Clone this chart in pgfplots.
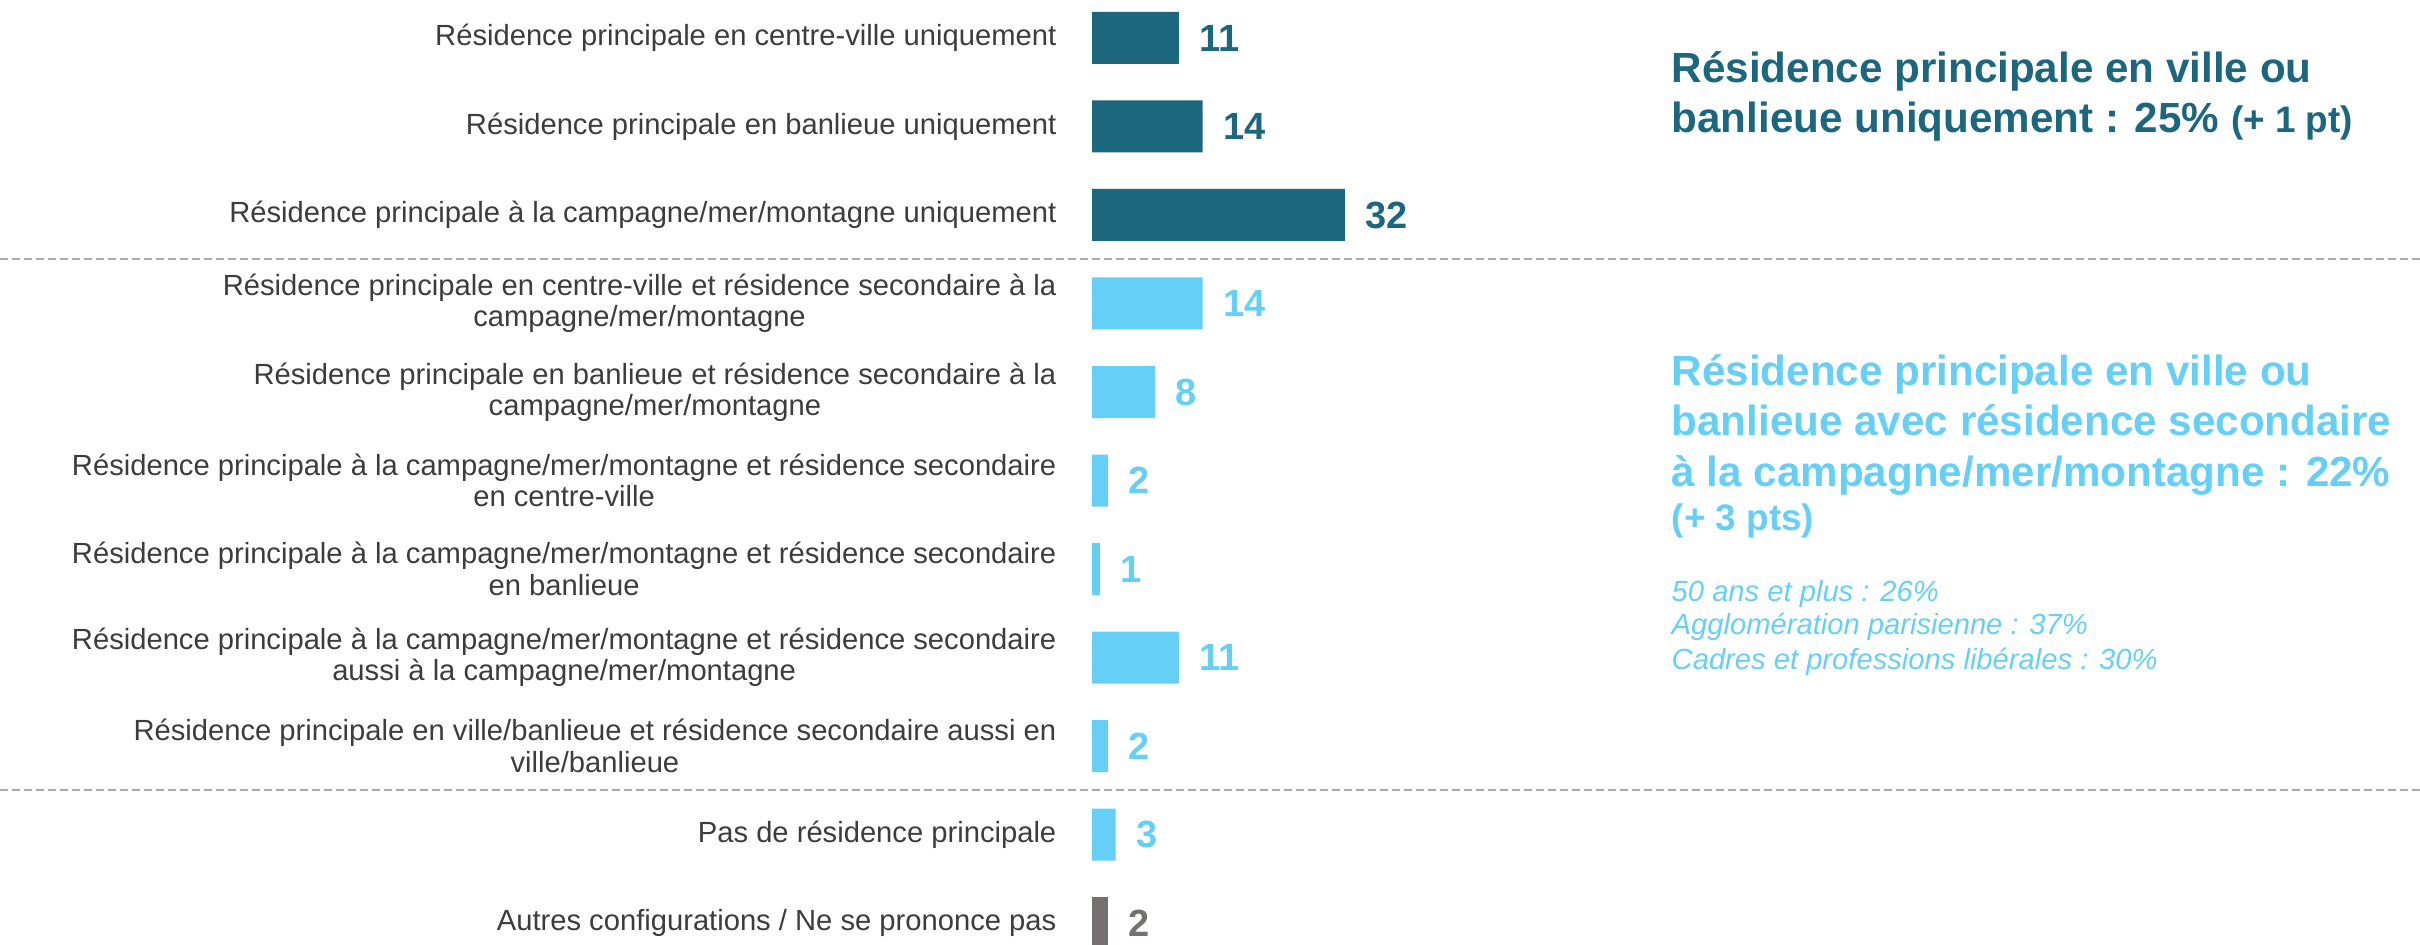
\documentclass[border=0pt]{standalone}
\usepackage{fontspec}
\setmainfont{Liberation Sans}
\usepackage{pgfplots}
\pgfplotsset{compat=1.18}
\definecolor{teal1}{HTML}{1D677E}
\definecolor{sky}{HTML}{66CFF5}
\definecolor{grey1}{HTML}{767171}
\definecolor{lbl}{HTML}{3C3C3C}
\definecolor{dashc}{HTML}{ABABAB}

\begin{document}
\begin{tikzpicture}[x=1cm,y=1cm]
\useasboundingbox (0,0) rectangle (24.2,9.44);
\begin{axis}[
  at={(10.92cm,0cm)}, anchor=south west,
  scale only axis, width=13.28cm, height=9.44cm,
  xbar, bar shift=0pt, bar width=0.52cm,
  xmin=0, xmax=168.1,
  ymin=-0.429, ymax=10.237, y dir=reverse,
  axis line style={draw=none}, xtick=\empty,
  ytick={0,...,10}, major tick length=0pt,
  yticklabels={
    {Résidence principale en centre-ville uniquement},
    {Résidence principale en banlieue uniquement},
    {Résidence principale à la campagne/mer/montagne uniquement},
    {Résidence principale en centre-ville et résidence secondaire à la\\campagne/mer/montagne},
    {Résidence principale en banlieue et résidence secondaire à la\\campagne/mer/montagne},
    {Résidence principale à la campagne/mer/montagne et résidence secondaire\\en centre-ville},
    {Résidence principale à la campagne/mer/montagne et résidence secondaire\\en banlieue},
    {Résidence principale à la campagne/mer/montagne et résidence secondaire\\aussi à la campagne/mer/montagne},
    {Résidence principale en ville/banlieue et résidence secondaire aussi en\\ville/banlieue},
    {Pas de résidence principale},
    {Autres configurations / Ne se prononce pas}},
  y tick label style={font=\fontsize{8.3}{8.9}\selectfont, text=lbl, align=center, inner sep=0pt, xshift=-0.35cm},
  nodes near coords, point meta=x,
  /pgf/number format/assume math mode=true,
  every node near coord/.append style={font=\fontsize{10.8}{12}\selectfont\bfseries, anchor=west, inner sep=0pt, xshift=0.2cm},
  clip=false,
]
\draw[dashc, line width=0.02cm, dash pattern=on 0.08cm off 0.04cm] (axis cs:-138.2,2.5) -- (axis cs:168.1,2.5);
\draw[dashc, line width=0.02cm, dash pattern=on 0.08cm off 0.04cm] (axis cs:-138.2,8.5) -- (axis cs:168.1,8.5);
\addplot[fill=teal1, draw=none, every node near coord/.append style={text=teal1}] coordinates {(11,0) (14,1) (32,2)};
\addplot[fill=sky, draw=none, every node near coord/.append style={text=sky}] coordinates {(14,3) (8,4) (2,5) (1,6) (11,7) (2,8) (3,9)};
\addplot[fill=grey1, draw=none, every node near coord/.append style={text=grey1}] coordinates {(2,10)};
\end{axis}
\begin{scope}[every node/.style={anchor=base west, inner sep=0pt}]
\node[text=teal1, font=\fontsize{12}{14}\selectfont\bfseries] at (16.71,8.61) {Résidence principale en ville ou};
\node[text=teal1, font=\fontsize{12}{14}\selectfont\bfseries] at (16.71,8.11) {banlieue uniquement : 25\% {\fontsize{10.5}{12}\selectfont(+ 1 pt)}};
\node[text=sky, font=\fontsize{12}{14}\selectfont\bfseries] at (16.71,5.58) {Résidence principale en ville ou};
\node[text=sky, font=\fontsize{12}{14}\selectfont\bfseries] at (16.71,5.08) {banlieue avec résidence secondaire};
\node[text=sky, font=\fontsize{12}{14}\selectfont\bfseries] at (16.71,4.57) {à la campagne/mer/montagne : 22\%};
\node[text=sky, font=\fontsize{10.5}{12}\selectfont\bfseries] at (16.71,4.13) {(+ 3 pts)};
\node[text=sky, font=\fontsize{8.3}{10}\selectfont\itshape] at (16.71,3.42) {50 ans et plus : 26\%};
\node[text=sky, font=\fontsize{8.3}{10}\selectfont\itshape] at (16.71,3.09) {Agglomération parisienne : 37\%};
\node[text=sky, font=\fontsize{8.3}{10}\selectfont\itshape] at (16.71,2.74) {Cadres et professions libérales : 30\%};
\end{scope}
\end{tikzpicture}
\end{document}
